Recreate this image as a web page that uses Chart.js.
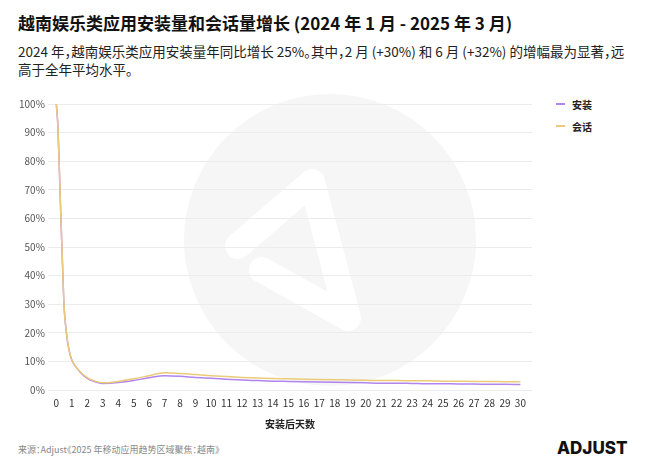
<!DOCTYPE html>
<html>
<head>
<meta charset="utf-8">
<script src="https://cdn.jsdelivr.net/npm/chart.js@4"></script>
<style>
  body { margin: 0; background: #fff; font-family: "Noto Sans CJK SC", "Noto Sans", sans-serif; }
  #wrap { position: relative; width: 650px; height: 468px; overflow: hidden; }
  #title { position: absolute; left: 18px; top: 10px; font-size: 17px; font-weight: 700; color: #111; font-feature-settings: "halt"; }
  #sub { position: absolute; left: 18px; top: 42px; width: 615px; font-size: 13.5px; line-height: 18px; color: #222; font-feature-settings: "halt"; }
  #mark { position: absolute; left: 0; top: 0; }
  #chartBox { position: absolute; left: 0; top: 90px; width: 545px; height: 344px; }
  #legend { position: absolute; left: 556px; top: 93px; font-size: 10px; font-weight: 700; color: #222; }
  #legend div { height: 22px; display: flex; align-items: center; }
  #legend span.sw { display: inline-block; width: 9px; height: 2px; margin-right: 7px; }
  #src { position: absolute; left: 18px; top: 443px; font-size: 9px; color: #888; font-feature-settings: "halt"; }
  #logo { position: absolute; left: 557px; top: 438px; font-family: "Inter", "DejaVu Sans", sans-serif; font-size: 17px; font-weight: 800; color: #111; }
</style>
</head>
<body>
<div id="wrap">
  <svg id="mark" width="650" height="468">
    <circle cx="330" cy="240" r="146" fill="#f6f6f6"/>
    <path d="M 238 246 L 312 182 L 348 318 L 262 270" fill="none" stroke="#fff" stroke-width="26" stroke-linejoin="round" stroke-linecap="round"/>
  </svg>
  <div id="title">越南娱乐类应用安装量和会话量增长 (2024 年 1 月 - 2025 年 3 月)</div>
  <div id="sub">2024 年，越南娱乐类应用安装量年同比增长 25%。其中，2 月 (+30%) 和 6 月 (+32%) 的增幅最为显著，远高于全年平均水平。</div>
  <div id="chartBox"><canvas id="chart"></canvas></div>
  <div id="legend"></div>
  <div id="src">来源：Adjust《2025 年移动应用趋势区域聚焦：越南》</div>
  <div id="logo">ADJUST</div>
</div>
<script>
// days since install (first day read at finer steps from the curve)
const days = [0, 0.1, 0.2, 0.3, 0.4, 0.5, 0.65, 0.8, 1, 1.5, 2, 2.5, 3,
  4, 5, 6, 7, 8, 9, 10, 11, 12, 13, 14, 15, 16, 17, 18, 19, 20,
  21, 22, 23, 24, 25, 26, 27, 28, 29, 30];

const installs = [100, 92, 76, 59, 43.5, 29, 20, 14.5, 10.5, 6.5, 4.1, 2.9, 2.3,
  2.6, 3.3, 4.3, 5.0, 4.8, 4.4, 4.1, 3.8, 3.5, 3.3, 3.1, 3.0, 2.9, 2.8, 2.7, 2.6, 2.5,
  2.4, 2.4, 2.3, 2.2, 2.2, 2.1, 2.1, 2.0, 2.0, 1.9];

const sessions = [100, 92, 76, 59, 43.5, 29, 20, 14.5, 10.5, 6.6, 4.3, 3.1, 2.5,
  3.0, 3.9, 5.0, 6.0, 5.8, 5.4, 5.0, 4.7, 4.4, 4.2, 4.0, 3.9, 3.8, 3.7, 3.6, 3.5, 3.4,
  3.3, 3.3, 3.2, 3.2, 3.1, 3.1, 3.0, 3.0, 2.9, 2.9];

// x axis tick labels
const dayTicks = [0, 1, 2, 3, 4, 5, 6, 7, 8, 9, 10, 11, 12, 13, 14, 15,
  16, 17, 18, 19, 20, 21, 22, 23, 24, 25, 26, 27, 28, 29, 30];

const seriesNames = ["安装", "会话"];
const seriesColors = ["#b184ee", "#ebcb78"];

function toPoints(values) {
  return days.map((d, i) => ({ x: d, y: values[i] }));
}

function buildLegend() {
  const box = document.getElementById("legend");
  seriesNames.forEach((name, i) => {
    const row = document.createElement("div");
    row.innerHTML = `<span class="sw" style="background:${seriesColors[i]}"></span>${name}`;
    box.appendChild(row);
  });
}

const tickFont = { family: "'Noto Sans CJK SC', 'Noto Sans', sans-serif", size: 10 };

new Chart(document.getElementById("chart"), {
  type: "line",
  data: {
    datasets: [installs, sessions].map((vals, i) => ({
      label: seriesNames[i],
      data: toPoints(vals),
      borderColor: seriesColors[i],
      borderWidth: 1.5,
      pointRadius: 0,
      cubicInterpolationMode: "monotone",
      fill: false,
      order: i === 0 ? 1 : 0,
    })),
  },
  options: {
    responsive: true,
    maintainAspectRatio: false,
    animation: false,
    layout: { padding: { left: 16, right: 13, top: 14, bottom: 0 } },
    plugins: { legend: { display: false }, tooltip: { enabled: false } },
    scales: {
      x: {
        type: "linear",
        min: -0.55,
        max: 30.75,
        grid: { display: false, drawTicks: false },
        border: { display: false },
        afterBuildTicks: (scale) => {
          scale.ticks = dayTicks.map((v) => ({ value: v }));
        },
        ticks: { color: "#333", font: tickFont, maxRotation: 0, autoSkip: false, padding: 7 },
        title: {
          display: true,
          text: "安装后天数",
          color: "#222",
          font: { ...tickFont, weight: "bold" },
          padding: { top: 2, bottom: 4 },
        },
      },
      y: {
        min: 0,
        max: 100,
        grid: { color: "#ececec", drawTicks: false },
        border: { display: false },
        ticks: {
          stepSize: 10,
          color: "#555",
          font: tickFont,
          padding: 3,
          callback: (v) => `${v}%`,
        },
      },
    },
  },
});

buildLegend();
</script>
</body>
</html>
